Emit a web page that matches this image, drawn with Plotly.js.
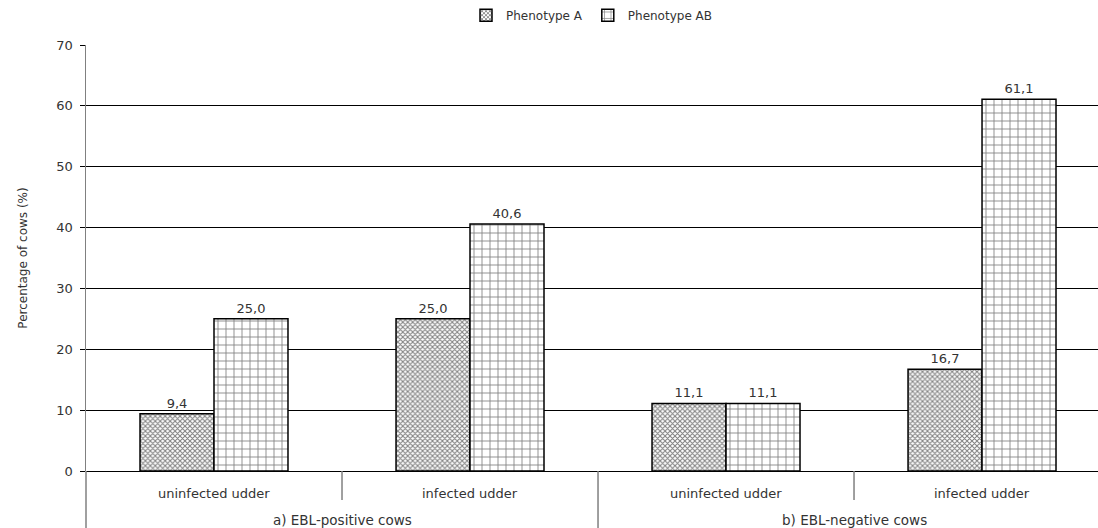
<!DOCTYPE html>
<html><head><meta charset="utf-8">
<script src="https://cdn.plot.ly/plotly-3.0.1.min.js"></script>
<style>html,body{margin:0;padding:0;background:#fff}</style>
</head><body><div id="chart" style="width:1098px;height:528px"></div>
<script>
const subCategories = ["uninfected udder", "infected udder", "uninfected udder", "infected udder"];
const groupLabels = ["a) EBL-positive cows", "b) EBL-negative cows"];
const seriesNames = ["Phenotype A", "Phenotype AB"];
const phenotypeA = [9.4, 25.0, 11.1, 16.7];
const phenotypeAB = [25.0, 40.6, 11.1, 61.1];
const yTicks = [0, 10, 20, 30, 40, 50, 60, 70];

const xs = subCategories.map((_, i) => i);
const fmt = v => v.toFixed(1).replace('.', ',');
const fam = 'DejaVu Sans, Verdana, sans-serif';
const font = {family: fam, size: 13, color: '#333'};

const traces = [
  {type: 'bar', name: seriesNames[0], x: xs, y: phenotypeA,
   text: phenotypeA.map(fmt), textposition: 'outside', cliponaxis: false,
   textfont: {family: fam, size: 13, color: '#333'},
   marker: {color: 'white', line: {color: 'black', width: 1.5},
            pattern: {shape: 'x', size: 3.5, solidity: 0.5, fgcolor: 'black', bgcolor: 'white', fillmode: 'overlay'}}},
  {type: 'bar', name: seriesNames[1], x: xs, y: phenotypeAB,
   text: phenotypeAB.map(fmt), textposition: 'outside', cliponaxis: false,
   textfont: {family: fam, size: 13, color: '#333'},
   marker: {color: 'white', line: {color: 'black', width: 1.5},
            pattern: {shape: '+', size: 8, solidity: 0.2, fgcolor: 'black', bgcolor: 'white', fillmode: 'overlay'}}}
];

const annotations = [];
subCategories.forEach((s, i) => annotations.push({x: i, y: 0, xref: 'x', yref: 'paper', text: s, showarrow: false,
  yanchor: 'middle', yshift: -22, font: font}));
groupLabels.forEach((g, i) => annotations.push({x: 2 * i + 0.5, y: 0, xref: 'x', yref: 'paper', text: g, showarrow: false,
  yanchor: 'middle', yshift: -49, font: {family: fam, size: 13.5, color: '#333'}}));

const lineStyle = {color: '#808080', width: 1.5};
const shapes = [
  {type: 'line', xref: 'x', yref: 'paper', x0: 0.5, x1: 0.5, y0: 0, y1: -0.068, line: lineStyle},
  {type: 'line', xref: 'x', yref: 'paper', x0: 2.5, x1: 2.5, y0: 0, y1: -0.068, line: lineStyle},
  {type: 'line', xref: 'x', yref: 'paper', x0: 1.5, x1: 1.5, y0: 0, y1: -0.14, line: lineStyle},
  {type: 'line', xref: 'paper', yref: 'paper', x0: 0, x1: 0, y0: 0, y1: -0.14, line: lineStyle}
];

const layout = {
  width: 1098, height: 528,
  margin: {l: 86, r: 0, t: 45, b: 57},
  paper_bgcolor: 'white', plot_bgcolor: 'white',
  barmode: 'group', bargap: 0.422, bargroupgap: 0,
  font: font,
  showlegend: true,
  legend: {orientation: 'h', x: 0.5, xanchor: 'center', y: 1.07, yanchor: 'middle',
           font: {family: fam, size: 12, color: '#333'}, itemwidth: 30, tracegroupgap: 0,
           bgcolor: 'rgba(0,0,0,0)'},
  xaxis: {range: [-0.5, 3.453], showticklabels: false, ticks: '', showgrid: false, zeroline: false,
          showline: false, fixedrange: true},
  yaxis: {range: [0, 70], tickvals: yTicks, ticks: 'outside', ticklen: 5, tickcolor: 'black',
          ticklabelstandoff: 4,
          showgrid: true, gridcolor: 'black', gridwidth: 1, zeroline: true, zerolinecolor: 'black', zerolinewidth: 1,
          showline: true, linecolor: '#808080', linewidth: 1.5,
          tickfont: {family: fam, size: 13, color: '#333'},
          title: {text: 'Percentage of cows (%)', standoff: 26, font: {family: fam, size: 12, color: '#333'}}},
  annotations: annotations,
  shapes: shapes
};

Plotly.newPlot('chart', traces, layout, {displayModeBar: false, staticPlot: true});
</script></body></html>
